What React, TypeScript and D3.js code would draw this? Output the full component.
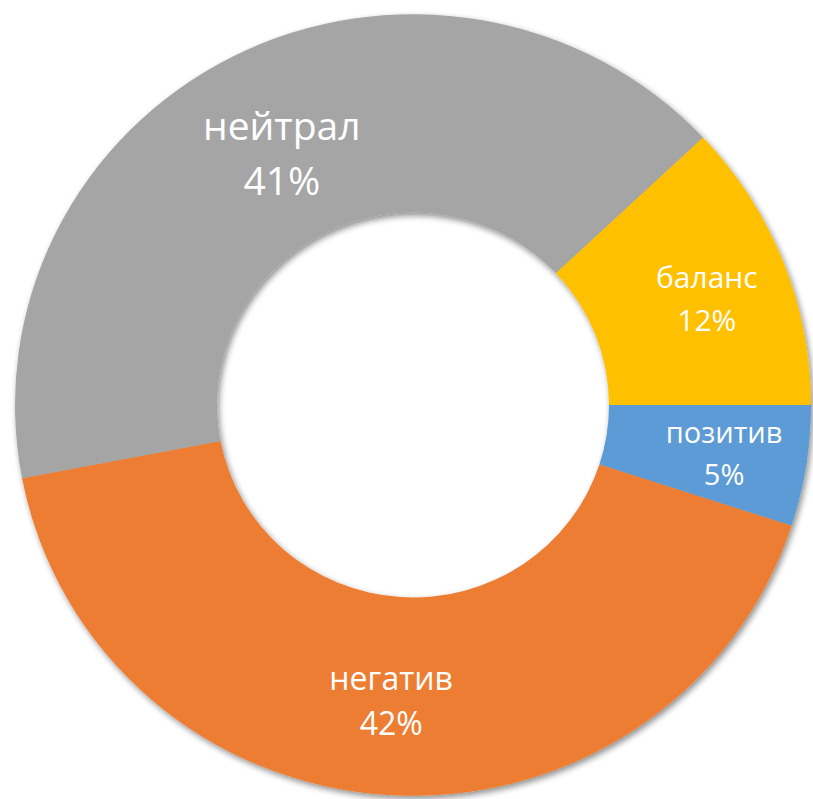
import React from "react";
import * as d3 from "d3";

const categories = ["позитив", "негатив", "нейтрал", "баланс"];
const values = [5, 42, 41, 12];
const colors = ["#5B9BD5", "#ED7D31", "#A5A5A5", "#FFC000"];

const W = 813;
const H = 799;
const CX = 413;
const CY = 405;
const R_OUT = 398;
const R_IN = 196;
const Y_SCALE = 0.982;
const labelRadius = [315, 300, 300, 315];
const labelFont = [29, 32, 39, 30];
const labelDx = [0, -3, 5, 1];
const labelDy = [-10, -9, -3, -3];

export default function App() {
  const pie = d3
    .pie<number>()
    .sort(null)
    .value((d) => d)
    .startAngle(Math.PI / 2)
    .endAngle(Math.PI / 2 + 2 * Math.PI);
  const arcs = pie(values);
  const arc = d3.arc<d3.PieArcDatum<number>>().innerRadius(R_IN).outerRadius(R_OUT);
  const total = d3.sum(values);

  return (
    <svg
      width={W}
      height={H}
      viewBox={`0 0 ${W} ${H}`}
      style={{ position: "absolute", left: 0, top: 0, background: "#fff" }}
    >
      <defs>
        <filter id="sh" x="-10%" y="-10%" width="120%" height="120%">
          <feGaussianBlur in="SourceAlpha" stdDeviation="3" />
          <feOffset dx="2" dy="3" result="b" />
          <feComponentTransfer>
            <feFuncA type="linear" slope="0.45" />
          </feComponentTransfer>
          <feMerge>
            <feMergeNode />
            <feMergeNode in="SourceGraphic" />
          </feMerge>
        </filter>
      </defs>
      <g transform={`translate(${CX},${CY}) scale(1,${Y_SCALE})`} filter="url(#sh)">
        {arcs.map((a, i) => (
          <path key={i} d={arc(a) || ""} fill={colors[i]} />
        ))}
      </g>
      <g
        fontFamily="'Open Sans', 'Noto Sans', sans-serif"
        fill="#fff"
        textAnchor="middle"
      >
        {arcs.map((a, i) => {
          const la = d3
            .arc<d3.PieArcDatum<number>>()
            .innerRadius(labelRadius[i])
            .outerRadius(labelRadius[i]);
          const [x, y] = la.centroid(a);
          const px = CX + x + labelDx[i];
          const py = CY + y * Y_SCALE + labelDy[i];
          const fs = labelFont[i];
          const pct = Math.round((values[i] / total) * 100) + "%";
          return (
            <text key={i} x={px} y={py} fontSize={fs}>
              <tspan x={px} dy={0}>{categories[i]}</tspan>
              <tspan x={px} dy={fs * 1.42}>{pct}</tspan>
            </text>
          );
        })}
      </g>
    </svg>
  );
}
